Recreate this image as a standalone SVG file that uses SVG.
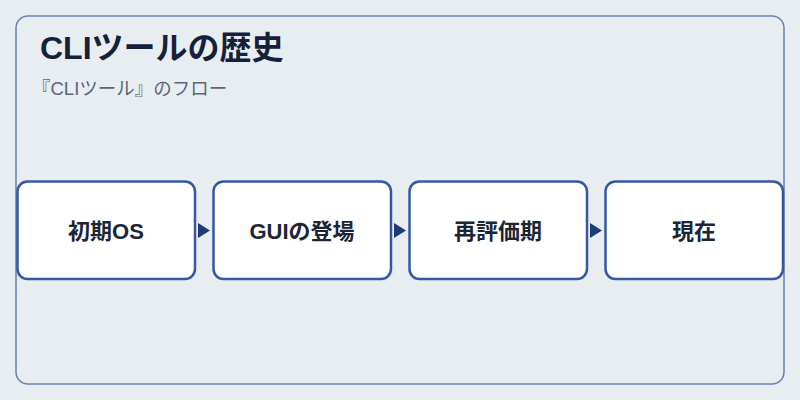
<svg xmlns="http://www.w3.org/2000/svg" width="800" height="400" viewBox="0 0 800 400">
  <style>
    .frame { fill: #e8edf2; stroke: #6a7fae; stroke-width: 1.5; }
    .node rect { fill: #ffffff; stroke: #3558a3; stroke-width: 2.5; }
    .node text { font-family: "Liberation Sans", "Noto Sans CJK JP", sans-serif; font-size: 22px; font-weight: 700; fill: #1b2536; text-anchor: middle; dominant-baseline: central; }
    .title { font-family: "Liberation Sans", "Noto Sans CJK JP", sans-serif; font-size: 32px; font-weight: 700; fill: #15213a; }
    .subtitle { font-family: "Liberation Sans", "Noto Sans CJK JP", sans-serif; font-size: 18.5px; fill: #5b6578; }
    .arrow { fill: #1f3a78; }
  </style>
  <rect x="0" y="0" width="800" height="400" fill="#e8edf2"/>
  <rect class="frame" x="16" y="16" width="768" height="368" rx="12"/>
  <text class="title" x="40" y="59">CLIツールの歴史</text>
  <text class="subtitle" x="32" y="95">『CLIツール』のフロー</text>
  <g id="connectors">
    <polygon class="arrow" points="198,223 210,230.5 198,238"/>
    <polygon class="arrow" points="394,223 406,230.5 394,238"/>
    <polygon class="arrow" points="590,223 602,230.5 590,238"/>
  </g>
  <g id="node1" class="node">
    <rect x="17.5" y="181.5" width="177.5" height="97.5" rx="10"/>
    <text x="106" y="231">初期OS</text>
  </g>
  <g id="node2" class="node">
    <rect x="213.5" y="181.5" width="177.5" height="97.5" rx="10"/>
    <text x="302" y="231">GUIの登場</text>
  </g>
  <g id="node3" class="node">
    <rect x="409.5" y="181.5" width="177.5" height="97.5" rx="10"/>
    <text x="498" y="231">再評価期</text>
  </g>
  <g id="node4" class="node">
    <rect x="605.5" y="181.5" width="177.5" height="97.5" rx="10"/>
    <text x="694" y="231">現在</text>
  </g>
</svg>
